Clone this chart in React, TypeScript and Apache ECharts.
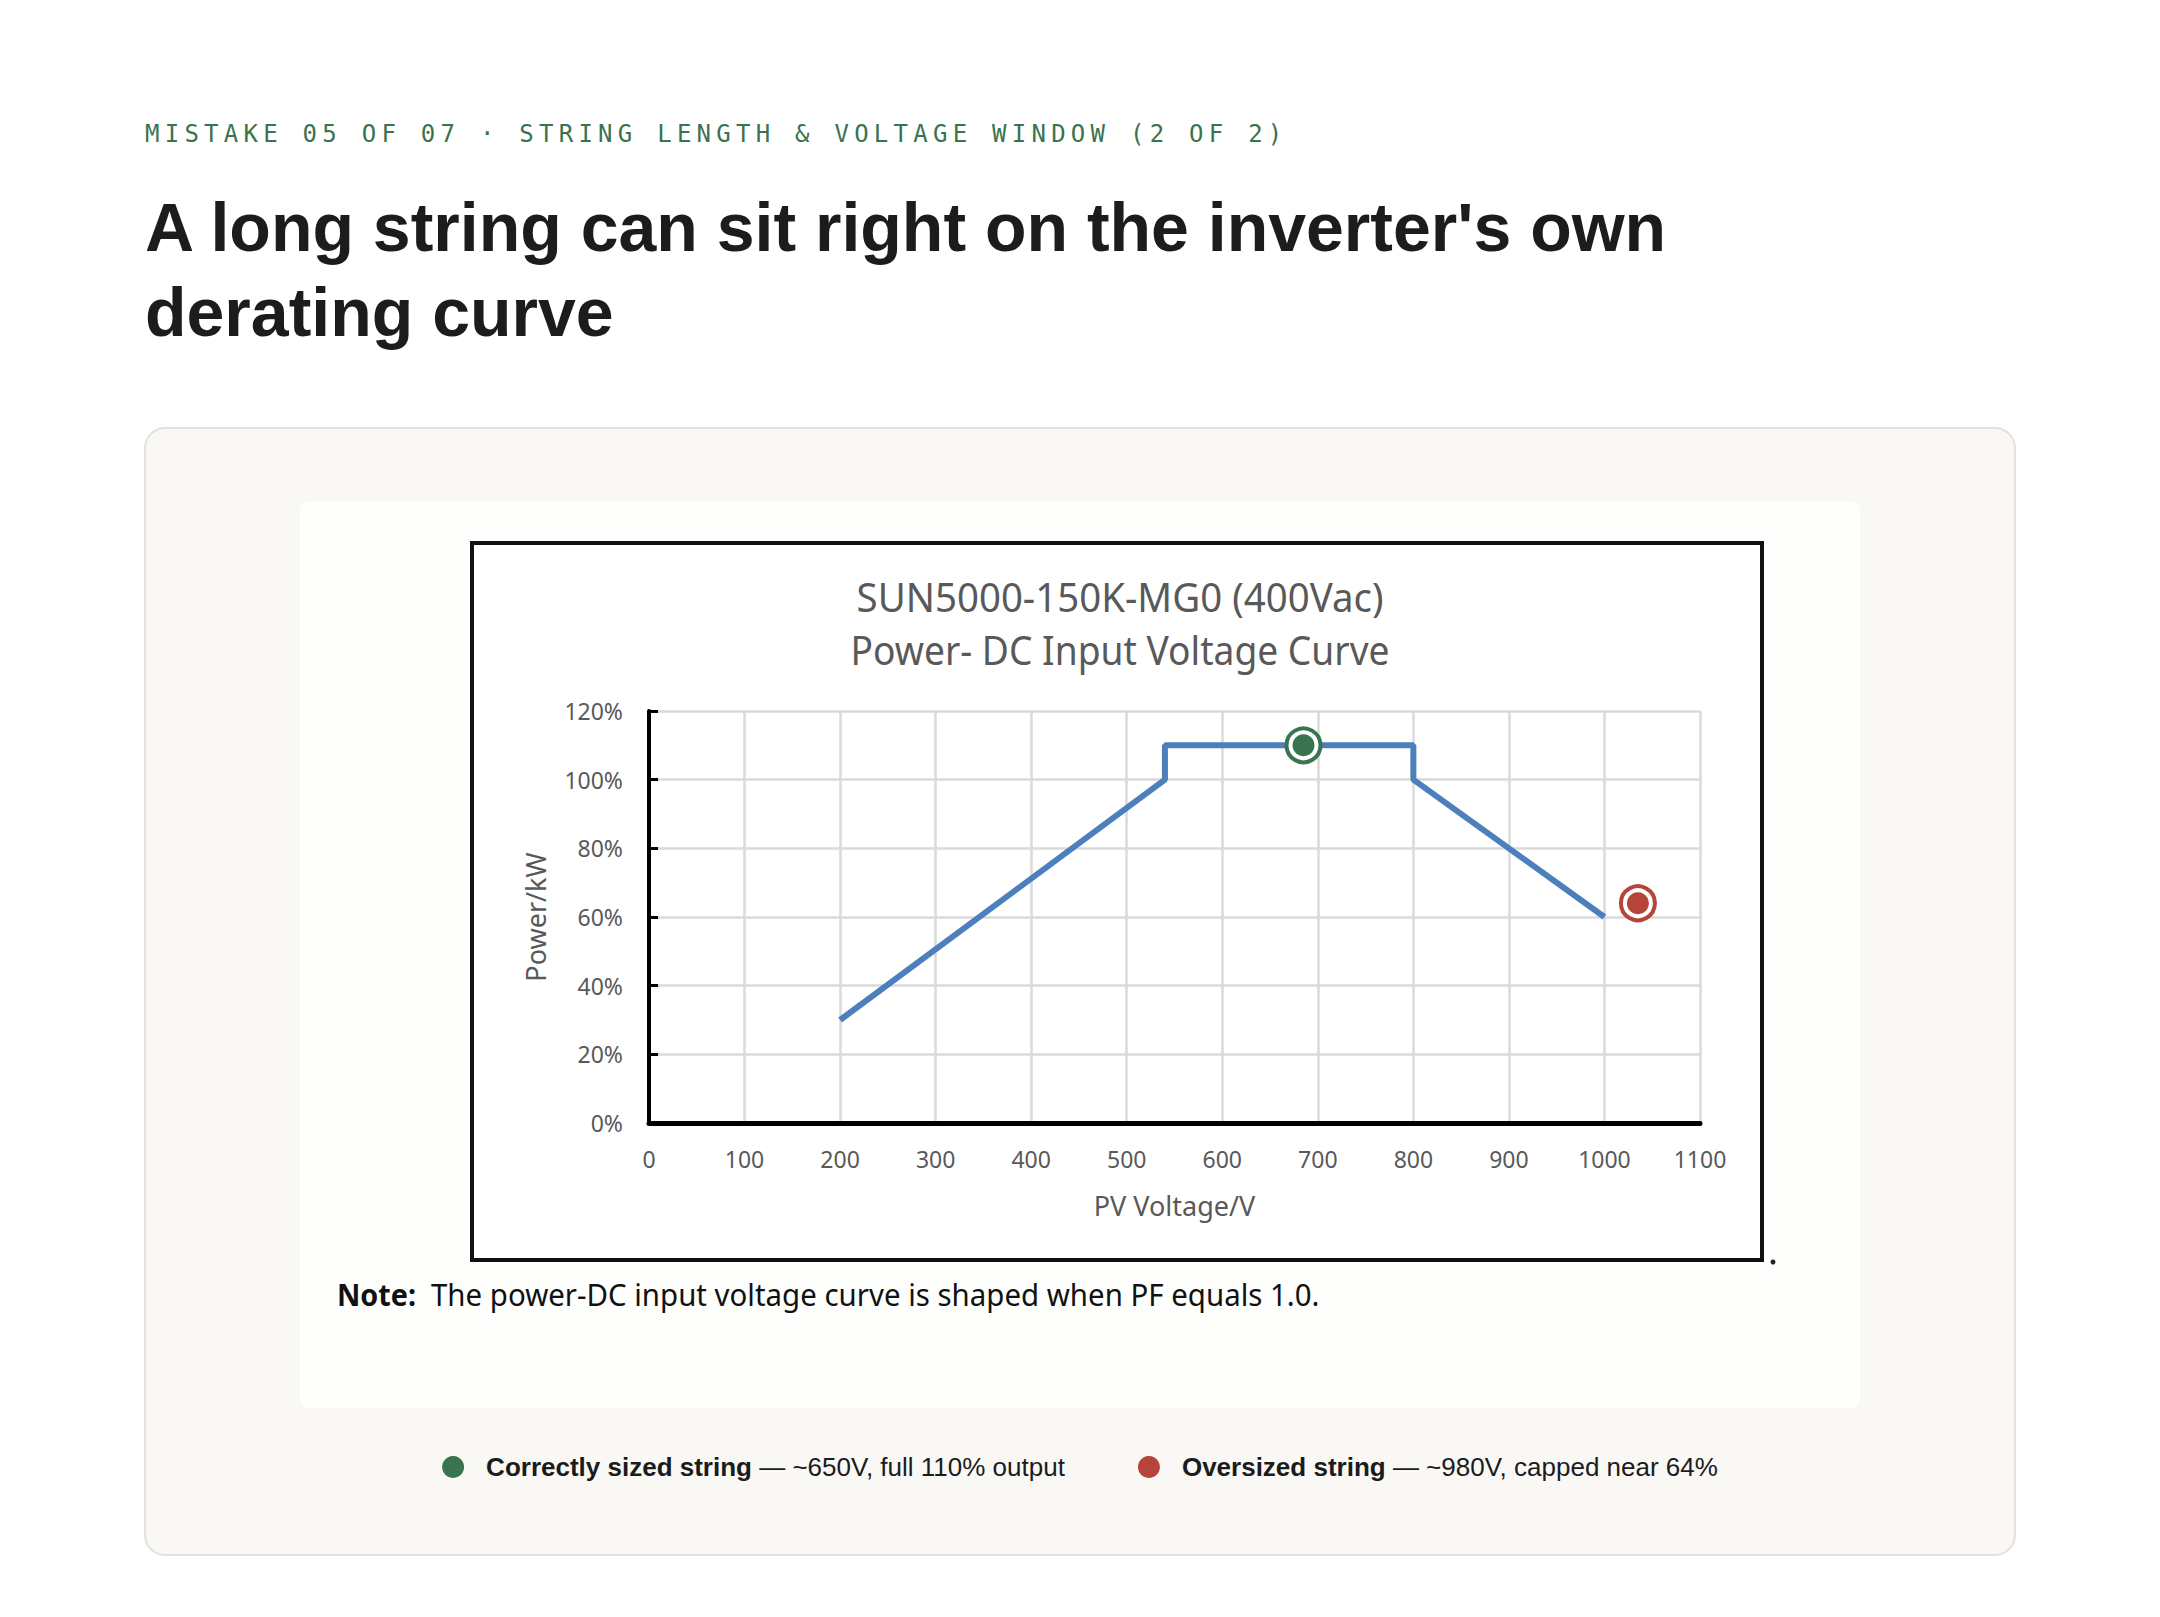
import React, { useEffect, useRef } from "react";
import * as echarts from "echarts";

// ---------- content ----------
const eyebrowText = "MISTAKE 05 OF 07 · STRING LENGTH & VOLTAGE WINDOW (2 OF 2)";
const headlineLines = ["A long string can sit right on the inverter's own", "derating curve"];
const chartTitleLines = ["SUN5000-150K-MG0 (400Vac)", "Power- DC Input Voltage Curve"];
const xAxisName = "PV Voltage/V";
const yAxisName = "Power/kW";
const xMin = 0;
const xMax = 1100;
const xStep = 100;
const yMin = 0;
const yMax = 120;
const yStep = 20;

// derating curve: PV voltage (V) vs power (%)
const curveVoltage = [200, 540, 540, 800, 800, 1000];
const curvePower = [30, 100, 110, 110, 100, 60];

// highlighted operating points
const correctPoint = [685, 110];
const oversizedPoint = [1035, 64];

const legendNames = ["Correctly sized string", "Oversized string"];
const legendDetails = ["~650V, full 110% output", "~980V, capped near 64%"];

const noteLabel = "Note:";
const noteText = "The power-DC input voltage curve is shaped when PF equals 1.0.";

// ---------- style ----------
const GREEN = "#3a7350";
const RED = "#b5443a";
const BLUE = "#4c7fbb";
const GRAY_TEXT = "#595959";
const SANS = '"Noto Sans", "Open Sans", sans-serif';
const PAGE = '"Liberation Sans", Arial, sans-serif';

function measure(text: string, font: string): number {
  const ctx = document.createElement("canvas").getContext("2d");
  if (!ctx) return 1;
  ctx.font = font;
  return ctx.measureText(text).width || 1;
}

export default function App() {
  const ref = useRef<HTMLDivElement>(null);

  useEffect(() => {
    if (!ref.current) return;
    const chart = echarts.init(ref.current, undefined, { renderer: "svg" });

    const titleSize = 40;
    const t1Scale = 527 / measure(chartTitleLines[0], `${titleSize}px "Noto Sans"`);
    const t2Scale = 539 / measure(chartTitleLines[1], `${titleSize}px "Noto Sans"`);
    const noteSize = 31;
    const noteLabelScale = 79 / measure(noteLabel, `bold ${noteSize}px "Noto Sans"`);
    const noteScale = 889 / measure(noteText, `${noteSize}px "Noto Sans"`);

    const curveData = curveVoltage.map((v, i) => [v, curvePower[i]]);

    const option: any = {
      animation: false,
      backgroundColor: "#ffffff",
      graphic: [
        {
          type: "rect",
          z: -10,
          silent: true,
          shape: { x: 145, y: 428, width: 1870, height: 1127, r: 20 },
          style: { fill: "#f9f8f5", stroke: "#e4e1da", lineWidth: 2 },
        },
        {
          type: "rect",
          z: -9,
          silent: true,
          shape: { x: 300, y: 501, width: 1560, height: 907, r: 10 },
          style: { fill: "#fefefd" },
        },
        {
          type: "rect",
          z: -8,
          silent: true,
          shape: { x: 472, y: 543, width: 1290, height: 717 },
          style: { fill: "#ffffff", stroke: "#111111", lineWidth: 4 },
        },
        {
          type: "circle",
          silent: true,
          shape: { cx: 1773, cy: 1262, r: 2.5 },
          style: { fill: "#222222" },
        },
        {
          type: "text",
          x: 145,
          y: 227,
          style: {
            text: headlineLines[0],
            fontFamily: PAGE,
            fontWeight: "bold",
            fontSize: 68,
            fill: "#1c1d1b",
            textAlign: "left",
            textVerticalAlign: "middle",
          },
        },
        {
          type: "text",
          x: 145,
          y: 312,
          style: {
            text: headlineLines[1],
            fontFamily: PAGE,
            fontWeight: "bold",
            fontSize: 68,
            fill: "#1c1d1b",
            textAlign: "left",
            textVerticalAlign: "middle",
          },
        },
        {
          type: "text",
          x: 1120,
          y: 596,
          scaleX: t1Scale,
          style: {
            text: chartTitleLines[0],
            fontFamily: SANS,
            fontSize: titleSize,
            fill: GRAY_TEXT,
            textAlign: "center",
            textVerticalAlign: "middle",
          },
        },
        {
          type: "text",
          x: 1120,
          y: 649,
          scaleX: t2Scale,
          style: {
            text: chartTitleLines[1],
            fontFamily: SANS,
            fontSize: titleSize,
            fill: GRAY_TEXT,
            textAlign: "center",
            textVerticalAlign: "middle",
          },
        },
        {
          type: "text",
          x: 337,
          y: 1294,
          scaleX: noteLabelScale,
          style: {
            text: noteLabel,
            fontFamily: SANS,
            fontWeight: "bold",
            fontSize: noteSize,
            fill: "#111111",
            textAlign: "left",
            textVerticalAlign: "middle",
          },
        },
        {
          type: "text",
          x: 431,
          y: 1294,
          scaleX: noteScale,
          style: {
            text: noteText,
            fontFamily: SANS,
            fontSize: noteSize,
            fill: "#111111",
            textAlign: "left",
            textVerticalAlign: "middle",
          },
        },
      ],
      grid: { left: 649, right: 460, top: 711, bottom: 494, containLabel: false },
      xAxis: {
        type: "value",
        min: xMin,
        max: xMax,
        interval: xStep,
        name: xAxisName,
        nameLocation: "middle",
        nameGap: 69,
        nameTextStyle: { fontFamily: SANS, fontSize: 27, color: GRAY_TEXT },
        axisLine: { show: true, onZero: false, lineStyle: { color: "#000000", width: 5 } },
        axisTick: { show: false },
        axisLabel: {
          margin: 24,
          fontFamily: SANS,
          fontSize: 23,
          color: GRAY_TEXT,
          formatter: (v: number) => String(v),
        },
        splitLine: { show: true, lineStyle: { color: "#dadada", width: 2.5 } },
      },
      yAxis: {
        type: "value",
        min: yMin,
        max: yMax,
        interval: yStep,
        name: yAxisName,
        nameLocation: "middle",
        nameGap: 100,
        nameTextStyle: { fontFamily: SANS, fontSize: 27, color: GRAY_TEXT },
        axisLine: { show: true, lineStyle: { color: "#000000", width: 4 } },
        axisTick: { show: true, inside: true, length: 9, lineStyle: { color: "#000000", width: 3 } },
        axisLabel: { margin: 26, fontFamily: SANS, fontSize: 23, color: GRAY_TEXT, formatter: "{value}%" },
        splitLine: { show: true, lineStyle: { color: "#dadada", width: 2.5 } },
      },
      legend: {
        data: legendNames,
        left: "center",
        top: 1449,
        icon: "circle",
        itemWidth: 22,
        itemHeight: 22,
        itemGap: 73,
        selectedMode: false,
        itemStyle: { opacity: 1 },
        formatter: (name: string) => {
          const i = legendNames.indexOf(name);
          return `{b|${name}}{r| — ${legendDetails[i]}}`;
        },
        textStyle: {
          rich: {
            b: { fontFamily: PAGE, fontWeight: "bold", fontSize: 26, color: "#1b1b1b", padding: [0, 0, 0, 17] },
            r: { fontFamily: PAGE, fontSize: 26, color: "#1b1b1b" },
          },
        },
      },
      series: [
        {
          type: "line",
          name: "curve",
          data: curveData,
          symbol: "none",
          lineStyle: { color: BLUE, width: 6 },
          z: 3,
        },
        {
          type: "scatter",
          name: "correct-ring",
          data: [correctPoint],
          symbol: "circle",
          symbolSize: 34,
          itemStyle: { color: "#ffffff", borderColor: GREEN, borderWidth: 4, opacity: 1 },
          z: 4,
        },
        {
          type: "scatter",
          name: legendNames[0],
          data: [correctPoint],
          symbol: "circle",
          symbolSize: 22,
          itemStyle: { color: GREEN, opacity: 1 },
          z: 5,
        },
        {
          type: "scatter",
          name: "oversized-ring",
          data: [oversizedPoint],
          symbol: "circle",
          symbolSize: 34,
          itemStyle: { color: "#ffffff", borderColor: RED, borderWidth: 4, opacity: 1 },
          z: 4,
        },
        {
          type: "scatter",
          name: legendNames[1],
          data: [oversizedPoint],
          symbol: "circle",
          symbolSize: 22,
          itemStyle: { color: RED, opacity: 1 },
          z: 5,
        },
      ],
    };

    chart.setOption(option);
    return () => chart.dispose();
  }, []);

  return (
    <div style={{ position: "fixed", left: 0, top: 0, width: 2160, height: 1617, background: "#ffffff" }}>
      <div ref={ref} style={{ position: "absolute", left: 0, top: 0, width: 2160, height: 1617 }} />
      <div
        style={{
          position: "absolute",
          left: 145,
          top: 121,
          fontFamily: '"DejaVu Sans Mono", "Liberation Mono", monospace',
          fontSize: 24,
          lineHeight: "26px",
          letterSpacing: "5.25px",
          color: GREEN,
          whiteSpace: "nowrap",
        }}
      >
        {eyebrowText}
      </div>
    </div>
  );
}
